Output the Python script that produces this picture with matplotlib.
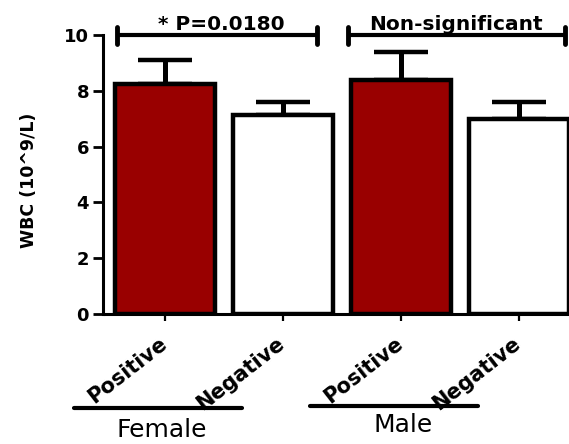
import matplotlib
matplotlib.use("Agg")
import matplotlib.pyplot as plt

plt.rcParams['font.family'] = ['DejaVu Sans']

categories = ["Positive", "Negative", "Positive", "Negative"]
groups = ["Female", "Male"]
means = [8.26, 7.13, 8.39, 6.99]
upper_err = [0.84, 0.47, 1.01, 0.61]
colors = ["#990000", "#ffffff", "#990000", "#ffffff"]
yticks = [0, 2, 4, 6, 8, 10]
annotations = ["* P=0.0180", "Non-significant"]

W, H = 569, 444
fig = plt.figure(figsize=(W / 100, H / 100), dpi=100)
ax = fig.add_axes([103 / W, 1 - 314 / H, 469 / W, 279 / H])

x = list(range(len(means)))
ax.bar(x, means, width=0.85, color=colors, edgecolor="black", linewidth=3.2, zorder=2)
ax.errorbar(x, means, yerr=[[0] * len(means), upper_err], fmt="none",
            ecolor="black", elinewidth=3.6, capsize=19.5, capthick=3.2, zorder=1)

ax.set_xlim(-0.525, 3.45)
ax.set_ylim(0, 10)
ax.set_yticks(yticks)
ax.set_yticklabels([str(t) for t in yticks], fontsize=13, fontweight="bold")
ax.set_xticks(x)
ax.set_xticklabels([])
ax.tick_params(axis="y", width=2.0, length=7, pad=3)
ax.tick_params(axis="x", width=1.6, length=5)
for s in ["top", "right"]:
    ax.spines[s].set_visible(False)
for s in ["left", "bottom"]:
    ax.spines[s].set_linewidth(2.2)
ax.spines["bottom"].set_capstyle("butt")
ax.set_ylabel("WBC (10^9/L)", fontsize=12.5, fontweight="bold")
ax.yaxis.set_label_coords(-0.138, 0.48)

# rotated category labels
for xi, lab in zip(x, categories):
    ax.annotate(lab, xy=(xi, 0), xycoords="data", xytext=(4, -14),
                textcoords="offset points", rotation=38, rotation_mode="default",
                ha="right", va="top", fontsize=15, fontweight="bold",
                annotation_clip=False)

# significance brackets with their captions
brackets = [(-0.407, 1.288), (1.551, 3.39)]
label_x = [0.48, 2.47]
for (x0, x1), txt, tx in zip(brackets, annotations, label_x):
    ax.plot([x0, x1], [10.0, 10.0], color="black", lw=3, clip_on=False,
            solid_capstyle="butt")
    for xe in (x0, x1):
        ax.plot([xe, xe], [9.68, 10.3], color="black", lw=3.5, clip_on=False,
                solid_capstyle="round")
    ax.text(tx, 10.17, txt, ha="center", va="baseline",
            fontsize=14.5, fontweight="bold", clip_on=False)

# group underlines and names
fig.add_artist(plt.Line2D([74 / W, 242 / W], [1 - 408 / H] * 2,
                          color="black", lw=3, solid_capstyle="round"))
fig.add_artist(plt.Line2D([310 / W, 478 / W], [1 - 406 / H] * 2,
                          color="black", lw=3, solid_capstyle="round"))
fig.text(162 / W, 1 - 437 / H, groups[0], ha="center", va="baseline", fontsize=18)
fig.text(403 / W, 1 - 432 / H, groups[1], ha="center", va="baseline", fontsize=18)

fig.savefig("out.png", dpi=100)
